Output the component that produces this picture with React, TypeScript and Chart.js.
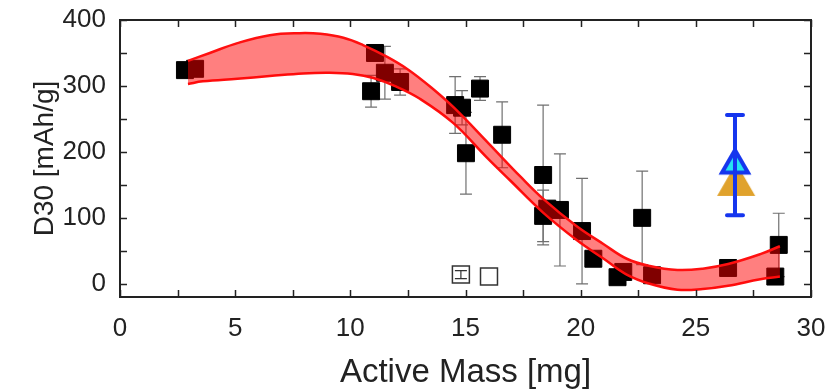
import React, { useEffect, useRef } from "react";
import { Chart, registerables } from "chart.js";

Chart.register(...registerables);

// ---- data ----
const massBlack = [2.82, 3.26, 10.9, 11.07, 11.5, 12.16, 14.55, 14.85, 15.02, 15.63, 16.59, 18.37, 18.37, 18.55, 19.1, 20.06, 20.55, 21.6, 21.85, 22.67, 23.1, 26.4, 28.45, 28.6];
const d30Black = [324, 326, 292, 350, 320, 306, 271, 267, 198, 296, 226, 165, 103, 114, 112, 80, 38, 10, 18, 100, 13, 24, 11, 59];
const errBlack = [0, 0, 24, 0, 40, 20, 43, 26, 62, 18, 50, 106, 39, 0, 85, 80, 0, 0, 0, 71, 0, 0, 0, 48];

const massOpen = [14.8, 16.02];
const d30Open = [14, 11];
const errOpen = [6, 0];

const massBlue = [26.7];
const d30Blue = [180];
const errBlue = [76];

const massOrange = [26.75];
const d30Orange = [150];

const bandUpperX = [2.95, 3.9, 5.1, 6.5, 7.8, 8.7, 9.7, 10.55, 11.6, 12.5, 13.5, 14.5, 16.0, 17.4, 18.4, 19.8, 21.0, 22.0, 23.0, 24.2, 25.3, 26.4, 27.8, 28.65];
const bandUpperY = [338, 350, 365, 377, 380, 379, 373, 362, 344, 325, 298, 267, 213, 162, 128, 88, 60, 38, 27, 21, 23, 30, 45, 57];
const bandLowerX = [2.95, 3.6, 5.1, 6.5, 7.95, 9.1, 10.1, 11.0, 12.0, 13.0, 14.46, 15.94, 16.93, 18.37, 19.84, 21.0, 22.0, 23.0, 24.2, 25.3, 26.4, 27.8, 28.65];
const bandLowerY = [303, 307, 311, 315, 319, 320, 318, 312, 299, 281, 244, 191, 157, 108, 66, 38, 14, 0, -9, -8, -3, 7, 11];

const xTicks = [0, 5, 10, 15, 20, 25, 30];
const xMinorTicks = [2.5, 7.5, 12.5, 17.5, 22.5, 27.5];
const yTicks = [0, 100, 200, 300, 400];
const yMinorTicks = [50, 150, 250, 350];

const pts = (xs: number[], ys: number[]) => xs.map((v, i) => ({ x: v, y: ys[i] }));

// triangle marker image (centroid at the canvas centre)
function triangleMarker(r: number, fill: string, stroke: string, lw: number) {
  const size = Math.ceil(2 * (r + lw + 2));
  const c = document.createElement("canvas");
  c.width = size;
  c.height = size;
  const g = c.getContext("2d")!;
  const cx = size / 2;
  const cy = size / 2;
  g.beginPath();
  for (let k = 0; k < 3; k++) {
    const a = (k * 2 * Math.PI) / 3;
    const px = cx + Math.sin(a) * r;
    const py = cy - Math.cos(a) * r;
    if (k === 0) g.moveTo(px, py);
    else g.lineTo(px, py);
  }
  g.closePath();
  g.fillStyle = fill;
  g.fill();
  if (lw > 0) {
    g.lineJoin = "miter";
    g.strokeStyle = stroke;
    g.lineWidth = lw;
    g.stroke();
  }
  return c;
}

function drawErr(ctx: CanvasRenderingContext2D, xs: any, ys: any, mx: number[], my: number[], me: number[], color: string, lw: number, half: number) {
  ctx.strokeStyle = color;
  ctx.lineWidth = lw;
  mx.forEach((m, i) => {
    const e = me[i];
    if (!e) return;
    const px = xs.getPixelForValue(m);
    const top = ys.getPixelForValue(my[i] + e);
    const bot = ys.getPixelForValue(my[i] - e);
    ctx.beginPath();
    ctx.moveTo(px, top);
    ctx.lineTo(px, bot);
    ctx.moveTo(px - half, top);
    ctx.lineTo(px + half, top);
    ctx.moveTo(px - half, bot);
    ctx.lineTo(px + half, bot);
    ctx.stroke();
  });
}

const decorPlugin = {
  id: "decor",
  beforeDatasetsDraw(chart: any) {
    const { ctx, scales } = chart;
    ctx.save();
    drawErr(ctx, scales.x, scales.y, massBlack, d30Black, errBlack, "#707070", 1.2, 6);
    ctx.restore();
  },
  afterDatasetsDraw(chart: any) {
    const { ctx, scales } = chart;
    ctx.save();
    drawErr(ctx, scales.x, scales.y, massOpen, d30Open, errOpen, "#333", 1.2, 6);
    ctx.lineCap = "round";
    drawErr(ctx, scales.x, scales.y, massBlue, d30Blue, errBlue, "#1535ee", 4, 8);
    ctx.restore();
  },
  afterDraw(chart: any) {
    const { ctx, chartArea: a, scales } = chart;
    const len = 7;
    ctx.save();
    ctx.strokeStyle = "#222";
    ctx.lineWidth = 1.5;
    ctx.beginPath();
    [...xTicks, ...xMinorTicks].forEach((v) => {
      const px = Math.round(scales.x.getPixelForValue(v)) + 0.5;
      ctx.moveTo(px, a.bottom);
      ctx.lineTo(px, a.bottom - len);
      ctx.moveTo(px, a.top);
      ctx.lineTo(px, a.top + len);
    });
    [...yTicks, ...yMinorTicks].forEach((v) => {
      const py = Math.round(scales.y.getPixelForValue(v)) + 0.5;
      ctx.moveTo(a.left, py);
      ctx.lineTo(a.left + len, py);
      ctx.moveTo(a.right, py);
      ctx.lineTo(a.right - len, py);
    });
    ctx.stroke();
    ctx.lineWidth = 2;
    ctx.strokeRect(a.left, a.top, a.right - a.left, a.bottom - a.top);
    ctx.restore();
  },
};

const zeroPad = (s: any) => {
  s.paddingLeft = 0;
  s.paddingRight = 0;
  s.paddingTop = 0;
  s.paddingBottom = 0;
};

export default function App() {
  const ref = useRef<HTMLCanvasElement>(null);
  useEffect(() => {
    Chart.defaults.font.family = "'Liberation Sans', Arial, sans-serif";
    const blueTri = triangleMarker(15, "#25e3f2", "#1535ee", 4);
    const orangeTri = triangleMarker(22, "#e0a22c", "#e0a22c", 0);
    const chart = new Chart(ref.current!, {
      type: "scatter",
      data: {
        datasets: [
          {
            label: "upper",
            data: pts(bandUpperX, bandUpperY),
            showLine: true,
            tension: 0.4,
            borderColor: "#ff1010",
            borderWidth: 2.5,
            backgroundColor: "rgba(255,0,0,0.5)",
            fill: "+1",
            pointRadius: 0,
            order: 0,
          },
          {
            label: "lower",
            data: pts(bandLowerX, bandLowerY),
            showLine: true,
            tension: 0.4,
            borderColor: "#ff1010",
            borderWidth: 2.5,
            fill: false,
            pointRadius: 0,
            order: 1,
          },
          {
            label: "blue",
            data: pts(massBlue, d30Blue),
            pointStyle: blueTri as any,
            pointRadius: 8,
            borderWidth: 0,
            order: 2,
          },
          {
            label: "orange",
            data: pts(massOrange, d30Orange),
            pointStyle: orangeTri as any,
            pointRadius: 8,
            borderWidth: 0,
            order: 3,
          },
          {
            label: "open",
            data: pts(massOpen, d30Open),
            pointStyle: "rect",
            pointRadius: 12,
            backgroundColor: "#ffffff",
            borderColor: "#333",
            borderWidth: 1.5,
            order: 4,
          },
          {
            label: "black",
            data: pts(massBlack, d30Black),
            pointStyle: "rect",
            pointRadius: 12,
            backgroundColor: "#000",
            borderColor: "#000",
            borderWidth: 1,
            order: 5,
          },
        ],
      },
      options: {
        animation: false,
        responsive: true,
        maintainAspectRatio: false,
        layout: { padding: { top: 20, right: 14, left: 0, bottom: 0 } },
        plugins: { legend: { display: false }, tooltip: { enabled: false } },
        scales: {
          x: {
            type: "linear",
            min: 0,
            max: 30,
            grid: { display: false, drawTicks: false },
            border: { display: false },
            afterBuildTicks: (s: any) => {
              s.ticks = xTicks.map((v) => ({ value: v }));
            },
            afterFit: (s: any) => {
              s.height = 94;
              zeroPad(s);
            },
            ticks: { font: { size: 26 }, color: "#222", padding: 16, maxRotation: 0 },
            title: {
              display: true,
              text: "Active Mass [mg]",
              font: { size: 33, lineHeight: 1.1 },
              color: "#222",
              padding: { top: 0, bottom: 0 },
            },
          },
          y: {
            type: "linear",
            min: -20,
            max: 400,
            grid: { display: false, drawTicks: false },
            border: { display: false },
            afterBuildTicks: (s: any) => {
              s.ticks = yTicks.map((v) => ({ value: v }));
            },
            afterFit: (s: any) => {
              s.width = 120;
              zeroPad(s);
            },
            ticks: { font: { size: 26 }, color: "#222", padding: 14 },
            title: {
              display: true,
              text: "D30 [mAh/g]",
              font: { size: 28, lineHeight: 1.2 },
              color: "#222",
              padding: { top: 28, bottom: 0 },
            },
          },
        },
      },
      plugins: [decorPlugin],
    });
    return () => chart.destroy();
  }, []);
  return (
    <div style={{ position: "absolute", left: 0, top: 0, width: 825, height: 391 }}>
      <canvas ref={ref} />
    </div>
  );
}
